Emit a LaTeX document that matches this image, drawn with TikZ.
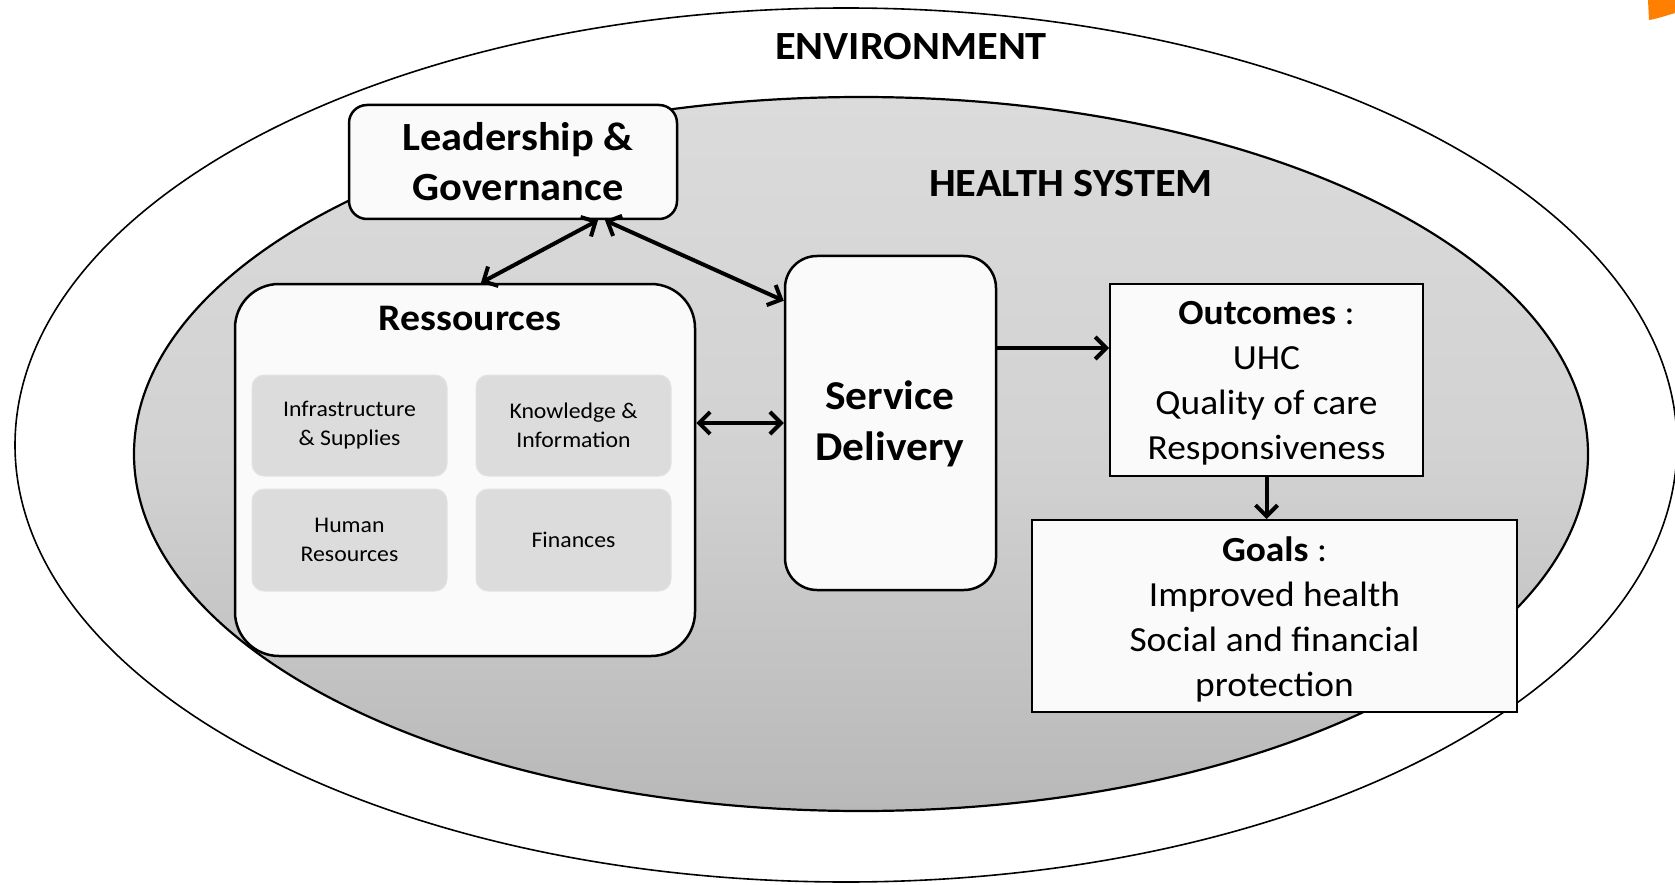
\documentclass[tikz,border=0pt]{standalone}
\usepackage{fontspec}
\setmainfont{Carlito}[FakeStretch=1.06]
\usetikzlibrary{arrows.meta}
\definecolor{boxfill}{HTML}{FAFAFA}
\definecolor{innerfill}{HTML}{DCDCDC}
\definecolor{orangeblob}{HTML}{FF8000}
\definecolor{hstop}{HTML}{DBDBDB}
\definecolor{hsmid}{HTML}{D2D2D2}
\definecolor{hsbot}{HTML}{B8B8B8}
\tikzset{
  mainbox/.style={draw=black, line width=2.5pt, fill=boxfill, inner sep=0pt},
  roundbox/.style={mainbox, rounded corners=32pt},
  subbox/.style={fill=innerfill, draw=gray!22, line width=1pt, rounded corners=12pt, inner sep=0pt, align=center, font=\fontsize{22.4}{29}\selectfont},
  bigtxt/.style={font=\fontsize{40}{50}\selectfont\bfseries, align=center},
  medtxt/.style={font=\fontsize{35.3}{45}\selectfont, align=center},
  conn/.style={line width=4pt, {Straight Barb[length=11pt,width=22pt,line width=4pt]}-{Straight Barb[length=11pt,width=22pt,line width=4pt]}},
  arr/.style={line width=4pt, -{Straight Barb[length=11pt,width=22pt,line width=4pt]}}
}
\begin{document}
\begin{tikzpicture}[x=1pt,y=-1pt]
\useasboundingbox (0,0) rectangle (1675,885);
\fill[white] (0,0) rectangle (1675,885);
% orange blob
\fill[orangeblob] (1648,0) -- (1675,0) -- (1675,13) .. controls (1665,16) and (1656,19) .. (1649,20) -- cycle;
% environment ellipse
\draw[line width=1.6pt, fill=white] (846,445) ellipse [x radius=831, y radius=437];
% health system ellipse
\shade[top color=hstop, bottom color=hsbot, middle color=hsmid] (861,454) ellipse [x radius=727, y radius=357];
\draw[line width=2.2pt] (861,454) ellipse [x radius=727, y radius=357];
\node[font=\fontsize{40}{48}\selectfont\bfseries] (env) at (911,47) {ENVIRONMENT};
\node[font=\fontsize{40}{48}\selectfont\bfseries] (hs) at (1071,184) {HEALTH SYSTEM};
% leadership
\node[mainbox, rounded corners=18pt, minimum width=328pt, minimum height=114pt] (lead) at (513,162) {};
\node[bigtxt] (leadtxt) at (518,162) {Leadership \&\\Governance};
% ressources
\node[mainbox, rounded corners=44pt, minimum width=460pt, minimum height=372pt] (res) at (465,470) {};
\node[font=\fontsize{37.5}{44}\selectfont\bfseries] (restitle) at (470,318) {Ressources};
\node[subbox, minimum width=195pt, minimum height=101pt] (infra) at (349.5,425.5) {Infrastructure\\\& Supplies};
\node[subbox, minimum width=195pt, minimum height=101pt] (know) at (573.5,425.5) {Knowledge \&\\Information};
\node[subbox, minimum width=195pt, minimum height=102pt] (hum) at (349.5,540) {Human\\Resources};
\node[subbox, minimum width=195pt, minimum height=102pt] (fin) at (573.5,540) {Finances};
% service delivery
\node[roundbox, minimum width=211pt, minimum height=334pt] (serv) at (890.5,423) {};
\node[font=\fontsize{41}{51}\selectfont\bfseries, align=center] (servtxt) at (890,424) {Service\\Delivery};
% outcomes
\node[mainbox, line width=2pt, minimum width=313pt, minimum height=192pt] (out) at (1266.5,380) {};
\node[medtxt] (outtxt) at (1266.5,383) {\textbf{Outcomes} :\\UHC\\Quality of care\\Responsiveness};
% goals
\node[mainbox, line width=2pt, minimum width=485pt, minimum height=192pt] (goals) at (1274.5,616) {};
\node[medtxt] (goalstxt) at (1274.5,619) {\textbf{Goals} :\\Improved health\\Social and financial\\protection};
% connectors
\draw[conn] ([xshift=16pt]res.north) -- ([xshift=85pt]lead.south);
\draw[conn] ([xshift=92pt]lead.south) -- ([yshift=-46pt]serv.north west);
\draw[conn] (res.east |- serv.west) -- (serv.west);
\coordinate (s1) at ([yshift=75pt]serv.east);
\draw[arr] (s1) -- (s1 -| out.west);
\draw[arr] (out.south) -- (out.south |- goals.north);
\end{tikzpicture}
\end{document}
